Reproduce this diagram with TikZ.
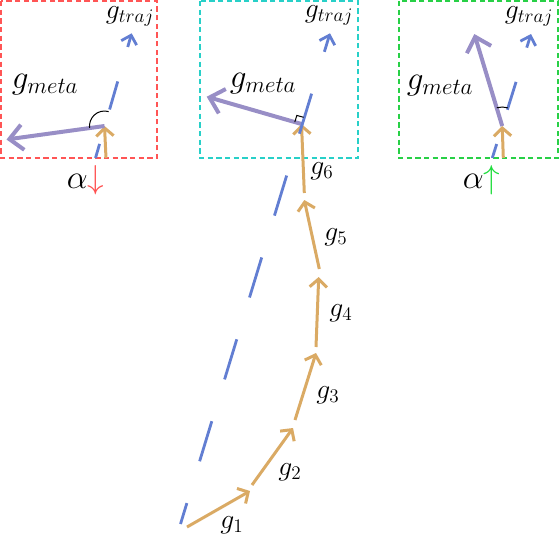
\documentclass[tikz,border=0pt]{standalone}
\usetikzlibrary{arrows.meta}
\definecolor{gold}{RGB}{218,170,100}
\definecolor{lav}{RGB}{152,142,198}
\definecolor{traj}{RGB}{98,126,210}
\definecolor{boxred}{RGB}{255,85,85}
\definecolor{boxcyan}{RGB}{40,208,200}
\definecolor{boxgreen}{RGB}{40,208,70}
\definecolor{downred}{RGB}{255,80,80}
\definecolor{upgreen}{RGB}{30,220,60}
\begin{document}
\begin{tikzpicture}[x=0.75pt,y=-0.75pt,
  gstep/.style={draw=gold, line width=2.25pt, -{Straight Barb[length=6pt,width=13pt]}},
  metaarrow/.style={draw=lav, line width=3pt, -{Straight Barb[length=10pt,width=19pt]}},
  trajline/.style={draw=traj, line width=2.1pt, -{Straight Barb[length=6pt,width=12pt]}},
  paneldash/.style={dash pattern=on 21.9pt off 26.9pt, dash phase=10.9pt},
  framebox/.style={line width=1.5pt, dash pattern=on 4pt off 2.5pt},
  lbl/.style={inner sep=0pt, font=\fontsize{21}{25}\selectfont},
  metalbl/.style={inner sep=0pt, font=\fontsize{26.5}{30}\selectfont},
  alphalbl/.style={inner sep=0pt, font=\fontsize{23.5}{28}\selectfont},
  anglemark/.style={draw=black, line width=0.75pt}]
\useasboundingbox (0,0) rectangle (559,550);

% frames
\draw[framebox, draw=boxred] (1,1) rectangle (157,158);
\draw[framebox, draw=boxcyan] (200,1) rectangle (358,158);
\draw[framebox, draw=boxgreen] (399,1) rectangle (558,158);

% main chain coordinates
\coordinate (s1) at (187,527); \coordinate (t1) at (250,491);
\coordinate (s2) at (252,485); \coordinate (t2) at (293,428);
\coordinate (s3) at (295,420); \coordinate (t3) at (316,353);
\coordinate (s4) at (316,347); \coordinate (t4) at (318.7,277);
\coordinate (s5) at (319.3,269); \coordinate (t5) at (304.3,200);
\coordinate (s6) at (304.3,193); \coordinate (m) at (301.5,124);
\coordinate (b0) at (180.5,524); \coordinate (b1) at (330,33.3);
\coordinate (mm) at (206.7,96.7);

% left panel coordinates
\coordinate (ls) at (106,158); \coordinate (lt) at (104.5,126);
\coordinate (lm) at (6.5,139.5);
\coordinate (lb0) at (95.5,158); \coordinate (lb1) at (131.7,33.3);

% right panel coordinates
\coordinate (rs) at (503.3,158); \coordinate (rt) at (502.2,126);
\coordinate (rm) at (474.3,34);
\coordinate (rb0) at (492.3,158); \coordinate (rb1) at (531,34);

% orange steps
\draw[gstep] (s1) -- (t1);
\draw[gstep] (s2) -- (t2);
\draw[gstep] (s3) -- (t3);
\draw[gstep] (s4) -- (t4);
\draw[gstep] (s5) -- (t5);
\draw[gstep] (s6) -- (m);
\draw[gstep] (ls) -- (lt);
\draw[gstep] (rs) -- (rt);

% meta gradients
\draw[metaarrow] (m) -- (mm);
\draw[metaarrow] (lt) -- (lm);
\draw[metaarrow] (rt) -- (rm);

% trajectory lines
\draw[trajline, dash pattern=on 31.4pt off 32.8pt, dash phase=15pt] (b0) -- (b1);
\draw[trajline, paneldash] (lb0) -- (lb1);
\draw[trajline, paneldash] (rb0) -- (rb1);

% angle marks
\draw[anglemark] (lt) ++(73.8:11.25pt) arc[start angle=73.8, end angle=187.4, radius=11.25pt];
\draw[anglemark] (rt) ++(73:14.25pt) arc[start angle=73, end angle=106.6, radius=14.25pt];
\draw[anglemark] (m) ++(72.8:5.25pt) -- ++(164.2:5.25pt) -- ++(252.8:5.25pt);

% labels
\node[lbl] (l1) at (232,525) {$g_1$};
\node[lbl] (l2) at (290,472) {$g_2$};
\node[lbl] (l3) at (328,395) {$g_3$};
\node[lbl] (l4) at (341,313) {$g_4$};
\node[lbl] (l5) at (336,237) {$g_5$};
\node[lbl] (l6) at (322,171) {$g_6$};

\node[metalbl] (lmeta) at (45,85) {$g_{meta}$};
\node[metalbl] (mmeta) at (263,84) {$g_{meta}$};
\node[metalbl] (rmeta) at (440,86) {$g_{meta}$};
\node[lbl] (ltraj) at (130,16) {$g_{traj}$};
\node[lbl] (mtraj) at (329,15) {$g_{traj}$};
\node[lbl] (rtraj) at (529,16) {$g_{traj}$};

\node[alphalbl] (lalpha) at (85.5,180) {$\alpha{\color{downred}\downarrow}$};
\node[alphalbl] (ralpha) at (481.5,180) {$\alpha{\color{upgreen}\uparrow}$};
\end{tikzpicture}
\end{document}
